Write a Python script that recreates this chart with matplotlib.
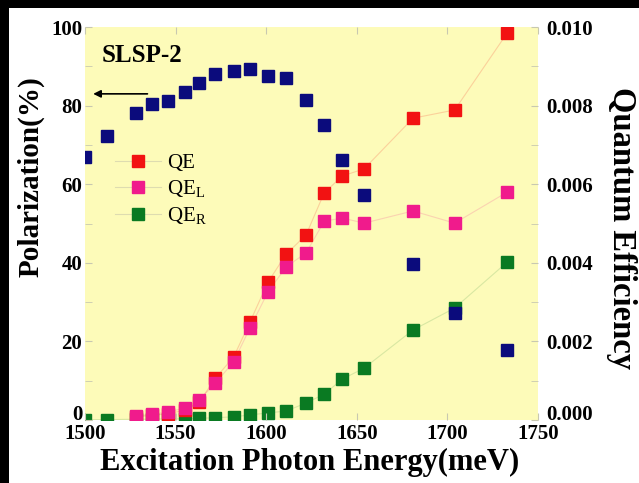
import matplotlib
matplotlib.use('Agg')
import matplotlib.pyplot as plt
import matplotlib.lines as mlines
from matplotlib.patches import Rectangle

# excitation energies (meV)
energy_pol = [1500, 1512, 1528, 1537, 1546, 1555, 1563, 1572, 1582, 1591,
              1601, 1611, 1622, 1632, 1642, 1654, 1681, 1704, 1733]
polarization = [67.0, 72.3, 78.1, 80.4, 81.2, 83.5, 85.8, 88.0, 88.8, 89.3,
                87.5, 87.0, 81.4, 75.1, 66.2, 57.3, 39.7, 27.2, 17.8]

energy_qe = [1528, 1537, 1546, 1555, 1563, 1572, 1582, 1591,
             1601, 1611, 1622, 1632, 1642, 1654, 1681, 1704, 1733]
qe = [0.00008, 0.00012, 0.00016, 0.00025, 0.00045, 0.00107, 0.0016, 0.00249,
      0.00351, 0.00422, 0.00471, 0.00578, 0.00621, 0.00639, 0.00768, 0.00789, 0.00985]
qe_l = [0.0001, 0.00015, 0.0002, 0.00031, 0.00051, 0.00094, 0.00148, 0.00234,
        0.00326, 0.0039, 0.00425, 0.00506, 0.00514, 0.00501, 0.00532, 0.00501, 0.0058]

energy_r = [1500, 1512, 1528, 1537, 1546, 1555, 1563, 1572, 1582, 1591,
            1601, 1611, 1622, 1632, 1642, 1654, 1681, 1704, 1733]
qe_r = [0.00001, 0.00001, 0.00002, 0.00002, 0.00003, 0.00003, 0.00004, 0.00006, 0.00008, 0.00013,
        0.00018, 0.00023, 0.00043, 0.00066, 0.00104, 0.00132, 0.00229, 0.00285, 0.00402]

plt.rcParams['font.family'] = ['Liberation Serif', 'DejaVu Serif']
plt.rcParams['mathtext.fontset'] = 'custom'
plt.rcParams['mathtext.rm'] = 'Liberation Serif'

navy = '#0b0b7c'
red = '#f21212'
pink = '#f01b8c'
green = '#0a7a22'
tick_gray = '#c8c8b0'
bg = '#fdfbb9'

fig = plt.figure(figsize=(6.39, 4.83), dpi=100, facecolor='white')
# black edge bands along the top and left border
fig.patches.append(Rectangle((0, 1 - 8 / 483), 1, 8 / 483, transform=fig.transFigure,
                             facecolor='black', edgecolor='none', zorder=0))
fig.patches.append(Rectangle((0, 0), 9 / 639, 1, transform=fig.transFigure,
                             facecolor='black', edgecolor='none', zorder=0))

ax = fig.add_axes([0.133, 0.1304, 0.709, 0.8136])
ax2 = ax.twinx()

ax.plot(energy_pol, polarization, 's', color=navy, ms=8.5, zorder=3, clip_on=True)

ax2.plot(energy_qe, qe, '-', color=red, alpha=0.18, lw=0.8)
ax2.plot(energy_qe, qe_l, '-', color=pink, alpha=0.18, lw=0.8)
ax2.plot(energy_r, qe_r, '-', color=green, alpha=0.15, lw=0.8)
ax2.plot(energy_r, qe_r, 's', color=green, ms=8.5, lw=0, zorder=2, clip_on=True)
ax2.plot(energy_qe, qe, 's', color=red, ms=8.5, lw=0, zorder=3, clip_on=True)
ax2.plot(energy_qe, qe_l, 's', color=pink, ms=8.5, lw=0, zorder=4, clip_on=True)

ax.set_xlim(1500, 1750)
ax.set_ylim(0, 100)
ax2.set_ylim(0, 0.010)
ax.set_zorder(ax2.get_zorder() + 1)
ax.patch.set_visible(False)
ax2.patch.set_visible(True)
ax2.patch.set_facecolor(bg)

for a in (ax, ax2):
    for s in a.spines.values():
        s.set_visible(False)

ax.set_xticks([1500, 1550, 1600, 1650, 1700, 1750])
ax.set_yticks([0, 20, 40, 60, 80, 100])
ax.set_yticks([10, 30, 50, 70, 90], minor=True)
ax2.set_yticks([0, 0.002, 0.004, 0.006, 0.008, 0.010])
ax2.set_yticklabels(['0.000', '0.002', '0.004', '0.006', '0.008', '0.010'])
ax2.set_yticks([0.001, 0.003, 0.005, 0.007, 0.009], minor=True)
ax.tick_params(axis='both', which='both', direction='in', color=tick_gray,
               length=5, labelsize=15, pad=2, top=True)
ax.tick_params(axis='x', pad=3)
ax2.tick_params(axis='y', which='both', direction='in', color=tick_gray,
                length=5, labelsize=15, pad=6)
for lab in ax.get_xticklabels() + ax.get_yticklabels() + ax2.get_yticklabels():
    lab.set_fontweight('bold')
# lift the two zero labels a little, clear of the x tick labels
ax.get_yticklabels()[0].set_va('baseline')
ax2.get_yticklabels()[0].set_va('baseline')

# axis titles placed directly in figure pixels
fig.text(310 / 639, 1 - 462 / 483, 'Excitation Photon Energy(meV)', fontsize=22,
         fontweight='bold', ha='center', va='center')
fig.text(31 / 639, 1 - 177 / 483, 'Polarization(%)', fontsize=21,
         fontweight='bold', ha='center', va='center', rotation=90)
fig.text(622 / 639, 1 - 228 / 483, 'Quantum Efficiency', fontsize=23.5,
         fontweight='bold', ha='center', va='center', rotation=270)

ax.text(1509, 91, 'SLSP-2', fontsize=18, fontweight='bold')
ax.annotate('', xy=(1503, 83), xytext=(1536, 83),
            arrowprops=dict(arrowstyle='-|>', color='black', lw=1.2,
                            mutation_scale=11))

# legend built from proxy handles with faint connecting lines
handles = [
    mlines.Line2D([], [], color='#dedcb0', lw=0.8, marker='s', ms=8.5,
                  markerfacecolor=c, markeredgecolor=c)
    for c in (red, pink, green)
]
ax.legend(handles, ['QE', r'QE$_\mathrm{L}$', r'QE$_\mathrm{R}$'],
          loc='upper left', bbox_to_anchor=(0.025, 0.725), frameon=False,
          fontsize=15, handlelength=2.2, handletextpad=0.3, labelspacing=0.25)

fig.savefig('out.png', dpi=100, facecolor='white')
